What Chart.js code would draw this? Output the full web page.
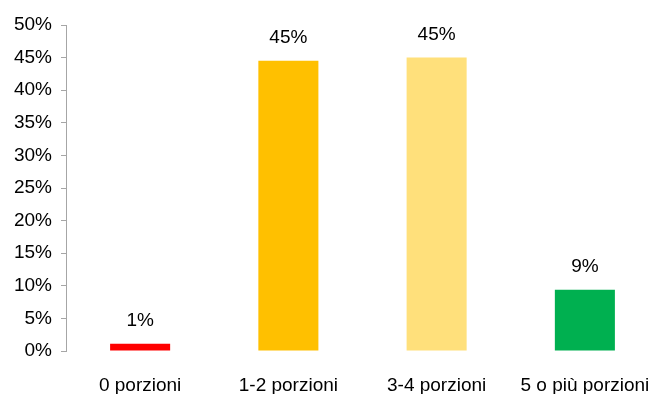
<!DOCTYPE html>
<html>
<head>
<meta charset="utf-8">
<script src="https://cdn.jsdelivr.net/npm/chart.js@4/dist/chart.umd.min.js"></script>
<style>
  html, body { margin: 0; padding: 0; background: #fff; overflow: hidden; }
  #wrap { position: relative; width: 670px; height: 394px; }
</style>
</head>
<body>
<div id="wrap"><canvas id="c"></canvas></div>
<script>
// Portions per day: share of respondents
const categories = ['0 porzioni', '1-2 porzioni', '3-4 porzioni', '5 o più porzioni'];
const shares = [1.1, 44.5, 45.0, 9.4];
const barColors = ['#FF0000', '#FFC000', '#FFE07B', '#00B050'];
const yTicks = [0, 5, 10, 15, 20, 25, 30, 35, 40, 45, 50];

const FONT = 'Liberation Sans, Arial, sans-serif';

// Percent labels above each bar
const valueLabels = {
  id: 'valueLabels',
  afterDatasetsDraw(chart) {
    const ctx = chart.ctx;
    const meta = chart.getDatasetMeta(0);
    ctx.save();
    ctx.font = '19px ' + FONT;
    ctx.fillStyle = '#000';
    ctx.textAlign = 'center';
    ctx.textBaseline = 'middle';
    meta.data.forEach((bar, i) => {
      ctx.fillText(Math.round(shares[i]) + '%', bar.x, bar.y - 23);
    });
    ctx.restore();
  }
};

new Chart(document.getElementById('c'), {
  type: 'bar',
  data: {
    labels: categories,
    datasets: [{
      data: shares,
      backgroundColor: barColors,
      borderWidth: 0,
      categoryPercentage: 1,
      barPercentage: 0.405
    }]
  },
  options: {
    responsive: true,
    maintainAspectRatio: false,
    animation: false,
    devicePixelRatio: 1,
    layout: { padding: { top: 25, right: 11, bottom: 0, left: 0 } },
    plugins: { legend: { display: false }, tooltip: { enabled: false } },
    scales: {
      x: {
        grid: { display: false },
        border: { display: false },
        ticks: { color: '#000', font: { family: FONT, size: 19 }, padding: 15, maxRotation: 0, autoSkip: false },
        afterFit(s) { s.height = 43; }
      },
      y: {
        min: 0,
        max: 50,
        afterBuildTicks(s) { s.ticks = yTicks.map(v => ({ value: v })); },
        grid: { display: true, drawOnChartArea: false, drawTicks: true, tickLength: 5, color: '#a6a6a6' },
        border: { display: true, color: '#a6a6a6' },
        ticks: { color: '#000', font: { family: FONT, size: 19 }, padding: 9, callback: v => v + '%' },
        afterFit(s) { s.width = 66; }
      }
    }
  },
  plugins: [valueLabels]
});
</script>
</body>
</html>
